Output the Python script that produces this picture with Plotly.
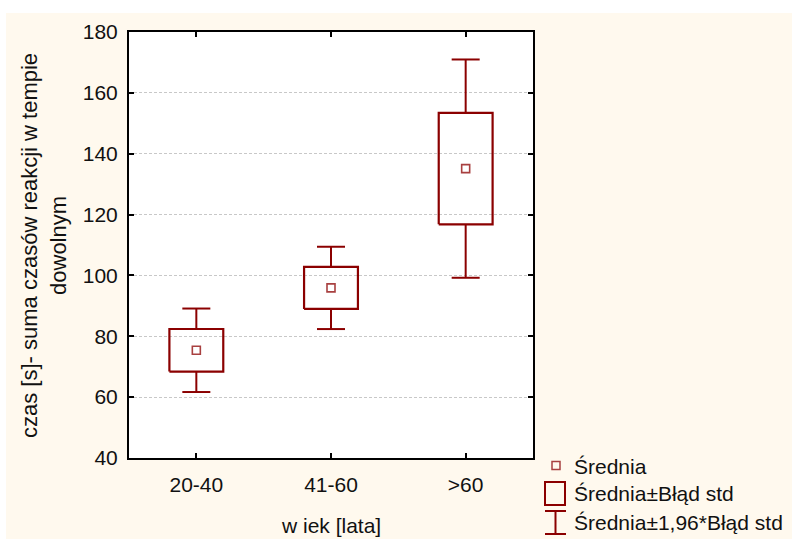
import plotly.graph_objects as go

# Reaction-time summary per age group: mean and standard error
groups = ["20-40", "41-60", ">60"]
means = [75.4, 95.9, 135.1]
std_err = [7.0, 6.9, 18.3]
z_factor = 1.96

y_title = "czas [s]- suma czasów reakcji w tempie<br>dowolnym"
x_title = "w iek [lata]"
legend_labels = ["Średnia", "Średnia±Błąd std", "Średnia±1,96*Błąd std"]

MAROON = "#8B0000"
MEAN_COLOR = "#A84040"
CREAM = "#FFF9EE"
FONT = "Liberation Sans, Arial, sans-serif"
FSIZE = 21

BOX_HALF = 0.2
CAP_HALF = 0.104

x_pos = list(range(len(groups)))

# rectangles: mean ± standard error
bx, by = [], []
# whiskers: mean ± 1.96 * standard error, with caps
wx, wy = [], []
for i, m, s in zip(x_pos, means, std_err):
    lo, hi = m - s, m + s
    wlo, whi = m - z_factor * s, m + z_factor * s
    bx += [i - BOX_HALF, i + BOX_HALF, i + BOX_HALF, i - BOX_HALF, i - BOX_HALF, None]
    by += [lo, lo, hi, hi, lo, None]
    wx += [i, i, None, i, i, None,
           i - CAP_HALF, i + CAP_HALF, None, i - CAP_HALF, i + CAP_HALF, None]
    wy += [hi, whi, None, lo, wlo, None, whi, whi, None, wlo, wlo, None]

fig = go.Figure()
fig.add_trace(go.Scatter(x=wx, y=wy, mode="lines",
                         line=dict(color=MAROON, width=2), hoverinfo="skip",
                         showlegend=False))
fig.add_trace(go.Scatter(x=bx, y=by, mode="lines",
                         line=dict(color=MAROON, width=2.2), hoverinfo="skip",
                         showlegend=False))
fig.add_trace(go.Scatter(x=x_pos, y=means, mode="markers",
                         marker=dict(symbol="square-open", size=8,
                                     color=MEAN_COLOR, line=dict(width=1.6)),
                         showlegend=False))

# plot-area geometry in pixels (used for paper-coordinate decorations)
W, H = 792, 539
L, R, T, B = 129, 259, 32, 81
pw, ph = W - L - R, H - T - B


def px_x(px):
    return (px - L) / pw


def px_y(py):
    return (H - B - py) / ph


shapes = [
    # cream page background with a thin white border on top/left
    dict(type="rect", xref="paper", yref="paper", layer="below",
         x0=px_x(6), x1=px_x(W + 10), y0=px_y(H + 10), y1=px_y(13),
         fillcolor=CREAM, line=dict(width=0)),
    dict(type="rect", xref="paper", yref="paper", layer="below",
         x0=0, x1=1, y0=0, y1=1, fillcolor="white", line=dict(width=0)),
    # legend symbols
    dict(type="rect", xref="paper", yref="paper",
         x0=px_x(552), x1=px_x(560), y0=px_y(469.5), y1=px_y(461.5),
         line=dict(color=MEAN_COLOR, width=1.5), fillcolor="rgba(0,0,0,0)"),
    dict(type="rect", xref="paper", yref="paper",
         x0=px_x(545), x1=px_x(565), y0=px_y(505), y1=px_y(482),
         line=dict(color=MAROON, width=2), fillcolor="rgba(0,0,0,0)"),
    dict(type="line", xref="paper", yref="paper",
         x0=px_x(555.5), x1=px_x(555.5), y0=px_y(534), y1=px_y(511),
         line=dict(color=MAROON, width=2)),
    dict(type="line", xref="paper", yref="paper",
         x0=px_x(545), x1=px_x(566), y0=px_y(511), y1=px_y(511),
         line=dict(color=MAROON, width=2)),
    dict(type="line", xref="paper", yref="paper",
         x0=px_x(545), x1=px_x(566), y0=px_y(534), y1=px_y(534),
         line=dict(color=MAROON, width=2)),
]

annotations = [
    dict(text=y_title, xref="paper", yref="paper", x=px_x(44), y=px_y(246),
         textangle=-90, showarrow=False, xanchor="center", yanchor="middle",
         font=dict(family=FONT, size=22, color="#111")),
    dict(text=x_title, xref="paper", yref="paper", x=px_x(331), y=px_y(525),
         showarrow=False, xanchor="center", yanchor="middle",
         font=dict(family=FONT, size=FSIZE, color="#111")),
]
for lbl, cy in zip(legend_labels, [466, 494, 522]):
    annotations.append(dict(text=lbl, xref="paper", yref="paper",
                            x=px_x(572), y=px_y(cy), showarrow=False,
                            xanchor="left", yanchor="middle",
                            font=dict(family=FONT, size=FSIZE, color="#111")))

axis_common = dict(showline=True, linecolor="black", linewidth=2,
                   mirror="ticks", ticks="inside", ticklen=5, tickwidth=2,
                   tickcolor="black", zeroline=False,
                   tickfont=dict(family=FONT, size=FSIZE, color="#111"))

fig.update_layout(
    width=W, height=H,
    margin=dict(l=L, r=R, t=T, b=B, pad=0),
    paper_bgcolor="white", plot_bgcolor="white",
    showlegend=False,
    shapes=shapes, annotations=annotations,
    xaxis=dict(range=[-0.5, 2.5], tickvals=x_pos, ticktext=groups,
               showgrid=False, ticklabelstandoff=7, **axis_common),
    yaxis=dict(range=[40, 180], tick0=40, dtick=20, showgrid=True,
               gridcolor="#c8c8c8", gridwidth=1, griddash="3px,2px",
               ticklabelstandoff=5, **axis_common),
)

fig.write_html("out.html")
